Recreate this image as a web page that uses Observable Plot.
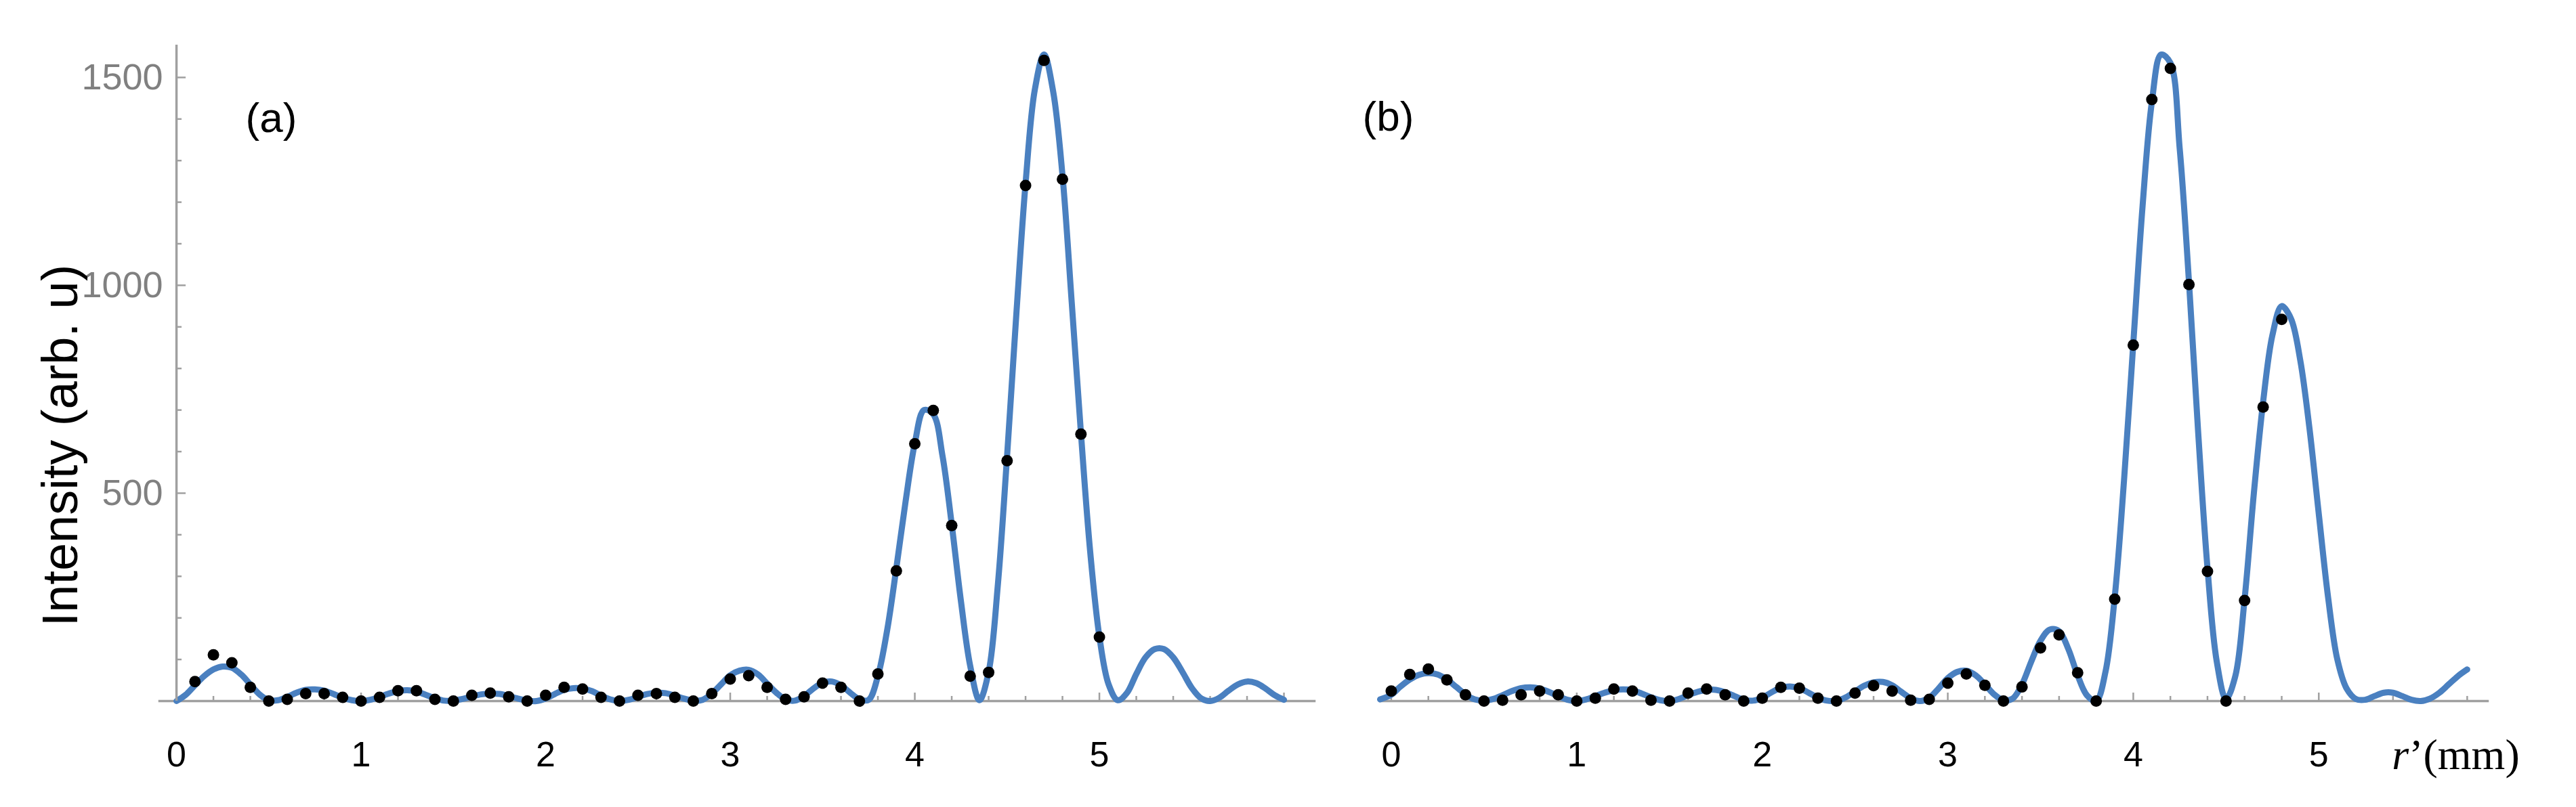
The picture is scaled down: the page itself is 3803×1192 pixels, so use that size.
<!DOCTYPE html>
<html><head><meta charset="utf-8">
<script src="https://cdn.jsdelivr.net/npm/d3@7"></script>
<script src="https://cdn.jsdelivr.net/npm/@observablehq/plot@0.6"></script>
<style>
html,body{margin:0;padding:0;background:#fff;}
#wrap{display:flex;width:3803px;height:1192px;overflow:hidden;}
#wrap svg{display:block;}
</style></head><body><div id="wrap"></div>
<script>
// ---------- Panel (a): measured points ----------
const aDotX = [0.1,0.2,0.3,0.4,0.5,0.6,0.7,0.8,0.9,1.0,1.1,1.2,1.3,1.4,1.5,1.6,1.7,1.8,1.9,2.0,2.1,2.2,2.3,2.4,2.5,2.6,2.7,2.8,2.9,3.0,3.1,3.2,3.3,3.4,3.5,3.6,3.7,3.8,3.9,4.0,4.1,4.2,4.3,4.4,4.5,4.6,4.7,4.8,4.9,5.0];
const aDotY = [47,111,92,33,0,4,18,18,9,0,9,25,25,4,0,14,19,10,0,14,33,29,9,0,14,18,9,0,18,53,61,33,4,10,43,33,0,65,313,619,699,422,60,69,578,1240,1541,1255,642,154];
// ---------- Panel (a): fitted curve ----------
const aFitX = [0,0.05,0.1,0.15,0.2,0.25,0.3,0.35,0.4,0.45,0.5,0.55,0.6,0.65,0.7,0.75,0.8,0.85,0.9,0.95,1.0,1.05,1.1,1.15,1.2,1.25,1.3,1.35,1.4,1.45,1.5,1.55,1.6,1.65,1.7,1.75,1.8,1.85,1.9,1.95,2.0,2.05,2.1,2.15,2.2,2.25,2.3,2.35,2.4,2.45,2.5,2.55,2.6,2.65,2.7,2.75,2.8,2.85,2.9,2.95,3.0,3.05,3.1,3.15,3.2,3.25,3.3,3.35,3.4,3.45,3.5,3.55,3.6,3.65,3.7,3.75,3.8,3.85,3.9,3.95,4.0,4.05,4.1,4.15,4.2,4.25,4.3,4.35,4.4,4.45,4.5,4.55,4.6,4.65,4.7,4.75,4.8,4.85,4.9,4.95,5.0,5.05,5.1,5.15,5.2,5.25,5.3,5.35,5.4,5.45,5.5,5.55,5.6,5.65,5.7,5.75,5.8,5.85,5.9,5.95,6.0];
const aFitY = [0,15,38,60,76,83,80,64,40,16,2,2,10,20,27,28,25,17,8,2,0,3,10,18,24,26,23,15,7,1,1,5,11,16,18,17,12,6,1,0,6,17,27,31,30,24,13,4,0,3,10,17,20,19,13,6,1,3,18,40,62,73,75,64,42,20,4,1,12,30,44,47,38,20,4,3,60,170,320,480,620,700,690,590,425,240,85,2,70,280,590,930,1245,1470,1555,1465,1265,960,645,360,155,40,2,20,65,105,125,125,105,70,32,7,0,8,25,40,47,43,30,14,3];
// ---------- Panel (b): measured points ----------
const bDotX = [0.0,0.1,0.2,0.3,0.4,0.5,0.6,0.7,0.8,0.9,1.0,1.1,1.2,1.3,1.4,1.5,1.6,1.7,1.8,1.9,2.0,2.1,2.2,2.3,2.4,2.5,2.6,2.7,2.8,2.9,3.0,3.1,3.2,3.3,3.4,3.5,3.6,3.7,3.8,3.9,4.0,4.1,4.2,4.3,4.4,4.5,4.6,4.7,4.8];
const bDotY = [24,64,77,51,15,0,2,15,24,15,0,7,29,24,2,0,19,29,15,0,7,33,31,7,0,19,37,24,2,4,43,65,38,0,34,128,159,68,0,245,856,1447,1522,1002,312,0,242,707,918];
// ---------- Panel (b): fitted curve ----------
const bFitX = [-0.06,0,0.05,0.1,0.15,0.2,0.25,0.3,0.35,0.4,0.45,0.5,0.55,0.6,0.65,0.7,0.75,0.8,0.85,0.9,0.95,1.0,1.05,1.1,1.15,1.2,1.25,1.3,1.35,1.4,1.45,1.5,1.55,1.6,1.65,1.7,1.75,1.8,1.85,1.9,1.95,2.0,2.05,2.1,2.15,2.2,2.25,2.3,2.35,2.4,2.45,2.5,2.55,2.6,2.65,2.7,2.75,2.8,2.85,2.9,2.95,3.0,3.05,3.1,3.15,3.2,3.25,3.3,3.35,3.4,3.45,3.5,3.55,3.6,3.65,3.7,3.75,3.8,3.85,3.9,3.95,4.0,4.05,4.1,4.15,4.2,4.25,4.3,4.35,4.4,4.45,4.5,4.55,4.6,4.65,4.7,4.75,4.8,4.85,4.9,4.95,5.0,5.05,5.1,5.15,5.2,5.25,5.3,5.35,5.4,5.45,5.5,5.55,5.6,5.65,5.7,5.75,5.8];
const bFitY = [4,15,35,52,63,67,64,52,34,16,4,1,5,14,24,31,33,30,22,12,3,0,4,12,20,26,28,26,18,9,2,0,5,14,22,27,27,21,12,3,1,8,21,32,35,31,20,8,1,1,9,23,37,45,46,38,22,7,0,8,30,55,70,73,62,40,16,2,6,40,95,145,172,168,125,62,14,0,70,250,530,860,1190,1440,1555,1535,1330,1010,645,320,95,5,60,245,500,720,880,950,920,820,655,450,250,100,30,5,3,12,20,20,12,3,0,6,20,40,60,76];
// ---------- Axes: ticks and labels ----------
const aMinorX = [0,0.2,0.4,0.6,0.8,1.2,1.4,1.6,1.8,2.2,2.4,2.6,2.8,3.2,3.4,3.6,3.8,4.2,4.4,4.6,4.8,5.2,5.4,5.6,5.8];
const aMajorX = [1,2,3,4,5,6];
const bMinorX = [0.2,0.4,0.6,0.8,1.2,1.4,1.6,1.8,2.2,2.4,2.6,2.8,3.2,3.4,3.6,3.8,4.2,4.4,4.6,4.8,5.2,5.4,5.6,5.8];
const bMajorX = [0,1,2,3,4,5];
const aTickLabelsX = [0,1,2,3,4,5];
const bTickLabelsX = [0,1,2,3,4,5];
const minorY = [100,200,300,400,600,700,800,900,1100,1200,1300,1400];
const majorY = [500,1000,1500];
const yLabel = "Intensity (arb. u)";
const xLabel = "r'(mm)";
const panelLabels = ["(a)","(b)"];

const BLUE = "#4a80c0";
const AXIS = "#a0a0a0";
const FONT = "'Liberation Sans', Arial, Helvetica, sans-serif";
const yDomain = [0, 1578];

function zip(xs, ys){ return xs.map((x,i)=>({x, y: ys[i]})); }

function panel(o){
  const marks = [
    Plot.frame({anchor: "bottom", stroke: AXIS, strokeWidth: 3.5}),
    Plot.ruleX(o.minorX, {x: d=>d, y1: 0, y2: 0, insetTop: -7, stroke: AXIS, strokeWidth: 2.5}),
    Plot.ruleX(o.majorX, {x: d=>d, y1: 0, y2: 0, insetTop: -12, stroke: AXIS, strokeWidth: 2.5}),
    Plot.text(o.tickLabels, {x: d=>d, y: 0, text: d=>String(d), dy: 80, fontSize: 52, fill: "#000", lineAnchor: "middle", fontFamily: FONT}),
    Plot.line(zip(o.fitX, o.fitY), {x: "x", y: "y", stroke: BLUE, strokeWidth: 9, curve: "catmull-rom"}),
    Plot.dot(zip(o.dotX, o.dotY), {x: "x", y: "y", r: 8.5, fill: "#000", stroke: "none"}),
    Plot.text([o.panelLabel], {frameAnchor: "top-left", dx: o.plx, dy: o.ply, textAnchor: "middle", lineAnchor: "middle", fontSize: 62, fill: "#000", fontFamily: FONT})
  ];
  if (o.yAxis) {
    marks.push(
      Plot.ruleX([0], {stroke: AXIS, strokeWidth: 3.5}),
      Plot.ruleY(minorY, {y: d=>d, x1: 0, x2: 0, insetRight: -8, stroke: AXIS, strokeWidth: 2.5}),
      Plot.ruleY(majorY, {y: d=>d, x1: 0, x2: 0, insetRight: -14, stroke: AXIS, strokeWidth: 2.5}),
      Plot.text(majorY, {x: 0, y: d=>d, text: d=>String(d), textAnchor: "end", lineAnchor: "middle", dx: -20, fontSize: 54, fill: "#808080", fontFamily: FONT}),
      Plot.text([yLabel], {frameAnchor: "left", rotate: -90, textAnchor: "middle", lineAnchor: "middle", dx: -145, dy: 107, fontSize: 74, fill: "#000", fontFamily: FONT})
    );
  }
  if (o.xLabel) {
    marks.push(Plot.text([o.xLabel], {frameAnchor: "bottom-right", textAnchor: "middle", lineAnchor: "middle", dx: o.xlx, dy: 80, fontSize: 64, fill: "#000", fontFamily: "'Liberation Serif', 'Times New Roman', serif"}));
  }
  return Plot.plot({
    width: o.width, height: 1192,
    marginTop: 66, marginBottom: 157, marginLeft: o.marginLeft, marginRight: o.marginRight,
    x: {domain: o.xDomain, axis: null},
    y: {domain: yDomain, axis: null},
    style: {background: "#fff", overflow: "visible"},
    marks
  });
}

const pa = panel({width: 1960, marginLeft: 235, marginRight: 20, xDomain: [-0.092, 6.165],
  minorX: aMinorX, majorX: aMajorX, tickLabels: aTickLabelsX, fitX: aFitX, fitY: aFitY, dotX: aDotX, dotY: aDotY,
  panelLabel: panelLabels[0], plx: 165, ply: 109, yAxis: true});
const pb = panel({width: 1843, marginLeft: 77, marginRight: 131, xDomain: [-0.06, 5.91],
  minorX: bMinorX, majorX: bMajorX, tickLabels: bTickLabelsX, fitX: bFitX, fitY: bFitY, dotX: bDotX, dotY: bDotY,
  panelLabel: panelLabels[1], plx: 12, ply: 107, yAxis: false, xLabel: xLabel, xlx: -47});
const wrap = document.getElementById("wrap");
wrap.appendChild(pa); wrap.appendChild(pb);
// italic r in the axis title
pb.querySelectorAll("text").forEach(t => {
  if (t.textContent === xLabel) {
    t.textContent = "";
    const ns = "http://www.w3.org/2000/svg";
    const s1 = document.createElementNS(ns, "tspan"); s1.setAttribute("font-style", "italic"); s1.textContent = "r";
    const s2 = document.createElementNS(ns, "tspan"); s2.textContent = "\u2019(mm)";
    t.appendChild(s1); t.appendChild(s2);
  }
});
</script></body></html>
